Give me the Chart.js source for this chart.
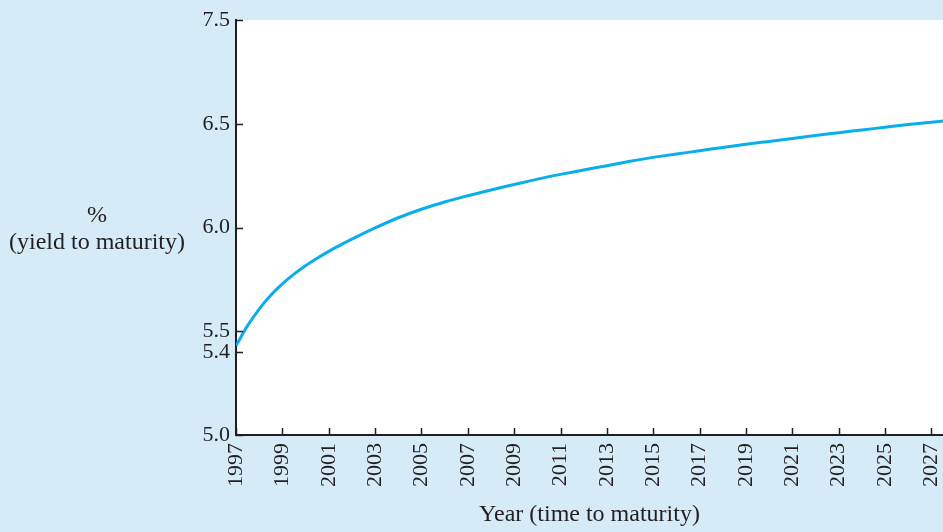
<!DOCTYPE html>
<html>
<head>
<meta charset="utf-8">
<script src="https://cdn.jsdelivr.net/npm/chart.js@4/dist/chart.umd.min.js"></script>
<style>
    html, body { margin: 0; padding: 0; background: #d5ecf8; }
    #wrap { position: relative; width: 943px; height: 532px; }
</style>
</head>
<body>
<div id="wrap"><canvas id="chartYield"></canvas></div>
<script>
// yield curve (year, % yield to maturity)
const anos = [1997, 1997.5, 1998, 1998.5, 1999, 1999.5, 2000, 2000.5, 2001, 2001.5, 2002,
    2003, 2004, 2005, 2006, 2007, 2008, 2009, 2010, 2011, 2012, 2013, 2014, 2015, 2016,
    2017, 2018, 2019, 2020, 2021, 2022, 2023, 2024, 2025, 2026, 2027, 2027.5];
const rendimentos = [5.43, 5.527, 5.607, 5.673, 5.728, 5.775, 5.816, 5.852, 5.885, 5.915, 5.944,
    5.998, 6.047, 6.088, 6.123, 6.153, 6.181, 6.207, 6.233, 6.256, 6.277, 6.298, 6.319, 6.338, 6.354,
    6.370, 6.386, 6.401, 6.415, 6.429, 6.443, 6.457, 6.470, 6.483, 6.496, 6.507, 6.513];

const xTicks = [1997, 1999, 2001, 2003, 2005, 2007, 2009, 2011, 2013, 2015, 2017, 2019, 2021, 2023, 2025, 2027];
const yTicks = [5.0, 5.4, 5.5, 6.0, 6.5, 7.0];
const yTickLabels = ['5.0', '5.4', '5.5', '6.0', '6.5', '7.5'];

const fonte = 'Liberation Serif';
const corTexto = '#231f20';

// inward tick marks + horizontal y title
const extras = {
    id: 'extras',
    afterDraw(chart) {
        let ctx = chart.ctx;
        let x = chart.scales.x, y = chart.scales.y;
        let area = chart.chartArea;
        ctx.save();
        ctx.strokeStyle = corTexto;
        ctx.lineWidth = 1.5;
        ctx.beginPath();
        xTicks.forEach(v => {
            let px = Math.round(x.getPixelForValue(v)) + 0.5;
            ctx.moveTo(px, area.bottom);
            ctx.lineTo(px, area.bottom - 7);
        });
        yTicks.forEach(v => {
            let py = Math.round(y.getPixelForValue(v)) + 0.5;
            ctx.moveTo(area.left, py);
            ctx.lineTo(area.left + 7, py);
        });
        ctx.stroke();

        ctx.fillStyle = corTexto;
        ctx.font = '24px "' + fonte + '"';
        ctx.textAlign = 'center';
        ctx.textBaseline = 'middle';
        ctx.fillText('%', 97, 216);
        ctx.fillText('(yield to maturity)', 97, 243);
        ctx.restore();
    }
};

const plotBg = {
    id: 'plotBg',
    beforeDraw(chart) {
        let a = chart.chartArea;
        chart.ctx.save();
        chart.ctx.fillStyle = '#ffffff';
        chart.ctx.fillRect(a.left, a.top, a.right - a.left, a.bottom - a.top);
        chart.ctx.restore();
    }
};

new Chart(document.getElementById('chartYield'), {
    type: 'line',
    data: {
        datasets: [{
            data: anos.map((a, i) => ({ x: a, y: rendimentos[i] })),
            borderColor: '#0aaeea',
            borderWidth: 3,
            pointRadius: 0,
            cubicInterpolationMode: 'monotone',
            fill: false
        }]
    },
    options: {
        responsive: true,
        maintainAspectRatio: false,
        animation: false,
        layout: { padding: { top: 20, left: 0, right: 0, bottom: 0 } },
        plugins: {
            legend: { display: false },
            tooltip: { enabled: false }
        },
        scales: {
            x: {
                type: 'linear',
                min: 1997,
                max: 2027.5,
                afterBuildTicks: s => { s.ticks = xTicks.map(v => ({ value: v })); },
                afterFit: s => { s.height = 97; s.paddingLeft = 0; s.paddingRight = 0; },
                grid: { display: false, drawTicks: false },
                border: { display: true, color: corTexto, width: 2 },
                ticks: {
                    autoSkip: false,
                    minRotation: 90,
                    maxRotation: 90,
                    padding: 8,
                    color: corTexto,
                    font: { family: fonte, size: 22 },
                    callback: v => String(v)
                },
                title: {
                    display: true,
                    text: 'Year (time to maturity)',
                    color: corTexto,
                    font: { family: fonte, size: 24, lineHeight: 1.1 },
                    padding: { top: 0, bottom: 4 }
                }
            },
            y: {
                type: 'linear',
                min: 5.0,
                max: 7.0,
                afterBuildTicks: s => { s.ticks = yTicks.map(v => ({ value: v })); },
                afterFit: s => { s.width = 236; s.paddingTop = 0; s.paddingBottom = 0; },
                grid: { display: false, drawTicks: false },
                border: { display: true, color: corTexto, width: 2 },
                ticks: {
                    autoSkip: false,
                    padding: 6,
                    color: corTexto,
                    font: { family: fonte, size: 22 },
                    callback: (v, i) => yTickLabels[i]
                }
            }
        }
    },
    plugins: [plotBg, extras]
});
</script>
</body>
</html>
